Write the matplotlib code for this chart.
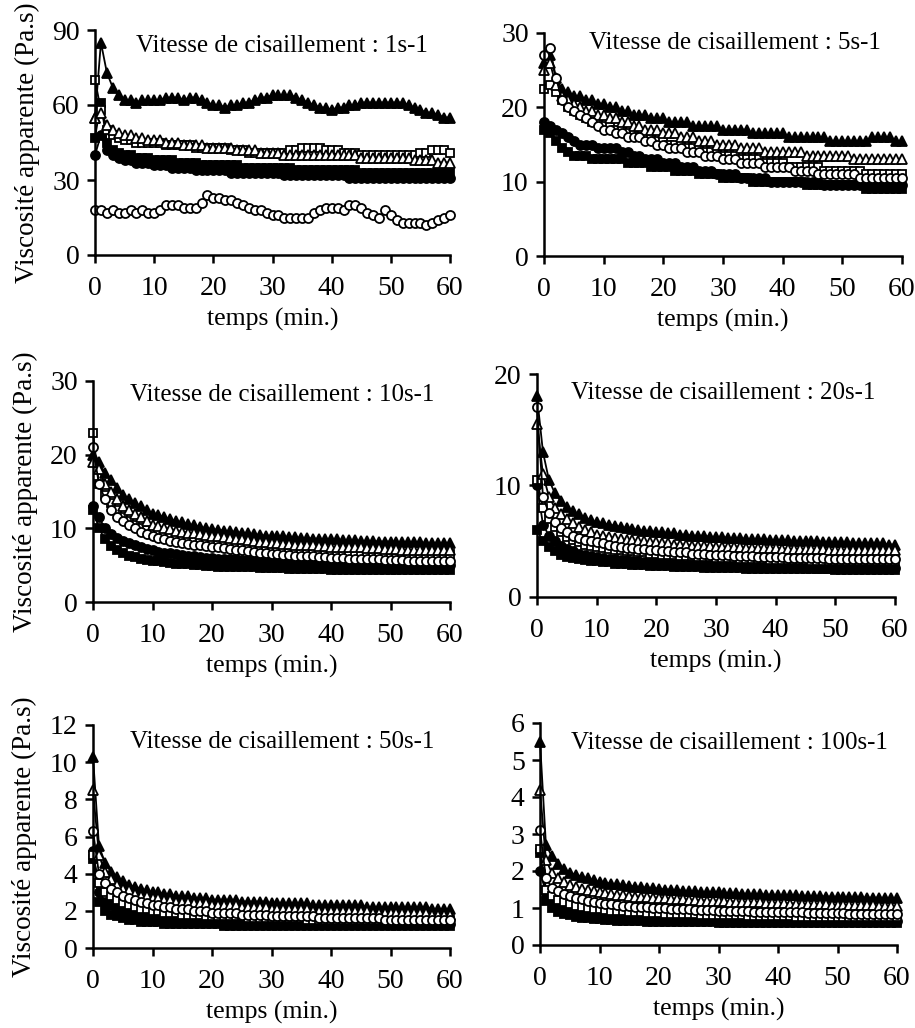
import matplotlib
matplotlib.use("Agg")
import matplotlib.pyplot as plt

plt.rcParams['font.family'] = ['Liberation Serif', 'DejaVu Serif']

# time (min.), one reading per minute
TIME = [0, 1, 2, 3, 4, 5, 6, 7, 8, 9, 10, 11, 12, 13, 14, 15, 16, 17, 18, 19,
        20, 21, 22, 23, 24, 25, 26, 27, 28, 29, 30, 31, 32, 33, 34, 35, 36, 37, 38, 39,
        40, 41, 42, 43, 44, 45, 46, 47, 48, 49, 50, 51, 52, 53, 54, 55, 56, 57, 58, 59, 60]

SHEAR_RATES = ["1s-1", "5s-1", "10s-1", "20s-1", "50s-1", "100s-1"]
Y_MAX = [90, 30, 30, 20, 12, 6]
Y_STEP = [30, 10, 10, 10, 2, 1]

# ---- 1 s-1
P1_TRI_F = [55, 85, 73, 67, 64, 62, 62, 61, 62, 62, 62, 62, 63, 63, 63, 62, 63, 63, 62, 61,
            60, 60, 59, 60, 60, 61, 61, 62, 63, 63, 64, 64, 64, 64, 63, 62, 61, 60, 59, 59,
            58, 59, 59, 60, 60, 61, 61, 61, 61, 61, 61, 61, 61, 60, 59, 58, 57, 57, 56, 55, 55]
P1_SQ_O = [70, 58, 50, 48, 47, 46, 46, 45, 45, 45, 45, 45, 44, 44, 44, 44, 44, 43, 43, 43,
           43, 43, 43, 42, 42, 42, 41, 41, 41, 41, 41, 41, 41, 42, 42, 43, 43, 43, 43, 42,
           42, 42, 41, 41, 41, 40, 40, 40, 40, 40, 40, 40, 40, 40, 40, 41, 41, 42, 42, 42, 41]
P1_TRI_O = [55, 57, 52, 50, 49, 48, 48, 47, 47, 46, 46, 46, 45, 45, 45, 44, 44, 44, 44, 43,
            43, 43, 43, 43, 42, 42, 42, 42, 41, 41, 41, 41, 40, 40, 40, 40, 40, 40, 40, 40,
            40, 40, 40, 40, 40, 39, 39, 39, 39, 39, 39, 39, 39, 39, 38, 38, 38, 38, 37, 37, 37]
P1_SQ_F = [47, 61, 45, 42, 41, 40, 40, 39, 39, 39, 38, 38, 38, 38, 37, 37, 37, 37, 36, 36,
           36, 36, 36, 36, 36, 35, 35, 35, 35, 35, 35, 35, 35, 35, 34, 34, 34, 34, 34, 34,
           34, 34, 34, 34, 34, 33, 33, 33, 33, 33, 33, 33, 33, 33, 33, 33, 33, 33, 33, 33, 33]
P1_CI_F = [40, 48, 42, 40, 39, 38, 38, 37, 37, 37, 36, 36, 36, 35, 35, 35, 35, 34, 34, 34,
           34, 34, 34, 33, 33, 33, 33, 33, 33, 33, 33, 33, 32, 32, 32, 32, 32, 32, 32, 32,
           32, 32, 32, 31, 31, 31, 31, 31, 31, 31, 31, 31, 31, 31, 31, 31, 31, 31, 31, 31, 31]
P1_CI_O = [18, 18, 17, 18, 17, 17, 18, 17, 18, 17, 17, 18, 20, 20, 20, 19, 19, 19, 21, 24,
           23, 23, 22, 22, 21, 20, 19, 18, 18, 17, 16, 16, 15, 15, 15, 15, 15, 17, 18, 19,
           19, 19, 18, 20, 20, 19, 17, 16, 15, 18, 16, 14, 13, 13, 13, 13, 12, 13, 14, 15, 16]

# ---- 5 s-1
P2_TRI_F = [26, 27, 24, 22.5, 22, 21.5, 21.5, 21, 21, 20.5, 20.5, 20, 20, 19.5, 19.5, 19, 19, 19, 18.5, 18.5,
            18.5, 18, 18, 18, 18, 17.5, 17.5, 17.5, 17.5, 17.5, 17, 17, 17, 17, 17, 16.5, 16.5, 16.5, 16.5, 16.5,
            16.5, 16, 16, 16, 16, 16, 16, 16, 15.5, 15.5, 15.5, 15.5, 15.5, 15.5, 15.5, 16, 16, 16, 16, 15.5, 15.5]
P2_TRI_O = [25, 26, 23, 21.5, 21, 20.5, 20, 19.5, 19.5, 19, 19, 18.5, 18.5, 18, 18, 17.5, 17.5, 17, 17, 17,
            16.5, 16.5, 16.5, 16, 16, 16, 15.5, 15.5, 15.5, 15, 15, 15, 15, 14.5, 14.5, 14.5, 14.5, 14, 14, 14,
            14, 14, 14, 14, 13.5, 13.5, 13.5, 13.5, 13.5, 13.5, 13.5, 13.5, 13, 13, 13, 13, 13, 13, 13, 13, 13]
P2_SQ_O = [22.5, 23, 22, 21, 20, 19.5, 19, 18.5, 18, 18, 17.5, 17.5, 17, 17, 16.5, 16.5, 16, 16, 16, 15.5,
           15.5, 15, 15, 15, 14.5, 14.5, 14.5, 14, 14, 14, 13.5, 13.5, 13.5, 13, 13, 13, 13, 12.5, 12.5, 12.5,
           12.5, 12, 12, 12, 12, 12, 12, 11.5, 11.5, 11.5, 11.5, 11.5, 11.5, 11.5, 11, 11, 11, 11, 11, 11, 11]
P2_CI_O = [27, 28, 24, 21, 20, 19.5, 19, 18.5, 18, 17.5, 17, 17, 16.5, 16.5, 16, 16, 16, 15.5, 15.5, 15,
           15, 14.5, 14.5, 14.5, 14, 14, 14, 13.5, 13.5, 13.5, 13, 13, 13, 12.5, 12.5, 12.5, 12.5, 12, 12, 12,
           12, 12, 11.5, 11.5, 11.5, 11.5, 11, 11, 11, 11, 11, 11, 11, 10.5, 10.5, 10.5, 10.5, 10.5, 10.5, 10.5, 10.5]
P2_CI_F = [18, 17.5, 17, 16.5, 16, 15.5, 15, 15, 15, 14.5, 14.5, 14.5, 14.5, 14, 14, 13.5, 13.5, 13, 13, 13,
           12.5, 12.5, 12.5, 12, 12, 12, 11.5, 11.5, 11.5, 11, 11, 11, 11, 10.5, 10.5, 10.5, 10.5, 10.5, 10, 10,
           10, 10, 10, 10, 10, 10, 10, 9.5, 9.5, 9.5, 9.5, 9.5, 9.5, 9.5, 9.5, 9.5, 9.5, 9.5, 9.5, 9.5, 9.5]
P2_SQ_F = [17, 16.5, 15.5, 14.5, 14, 13.5, 13.5, 13.5, 13, 13, 13, 13, 13, 13, 12.5, 12.5, 12.5, 12.5, 12, 12,
           12, 12, 11.5, 11.5, 11.5, 11.5, 11, 11, 11, 11, 10.5, 10.5, 10.5, 10.5, 10.5, 10, 10, 10, 10, 10,
           10, 10, 10, 10, 9.5, 9.5, 9.5, 9.5, 9.5, 9.5, 9.5, 9.5, 9.5, 9.5, 9, 9, 9, 9, 9, 9, 9]

# ---- 10 s-1
P3_TRI_F = [20, 19, 17.5, 16.5, 15.5, 14.5, 14, 13.5, 13, 12.5, 12, 11.8, 11.5, 11.2, 11, 10.8, 10.6, 10.4, 10.2, 10,
            9.9, 9.8, 9.7, 9.6, 9.5, 9.4, 9.3, 9.2, 9.1, 9, 9, 8.9, 8.9, 8.8, 8.8, 8.7, 8.7, 8.6, 8.6, 8.5,
            8.5, 8.5, 8.4, 8.4, 8.4, 8.3, 8.3, 8.3, 8.2, 8.2, 8.2, 8.2, 8.1, 8.1, 8.1, 8.1, 8, 8, 8, 8, 8]
P3_TRI_O = [19, 18, 16, 15, 14, 13, 12.5, 12, 11.5, 11, 10.5, 10.3, 10.1, 9.9, 9.7, 9.5, 9.4, 9.3, 9.2, 9.1,
            9, 8.9, 8.8, 8.7, 8.6, 8.5, 8.4, 8.3, 8.2, 8.1, 8, 8, 7.9, 7.9, 7.8, 7.8, 7.7, 7.7, 7.6, 7.6,
            7.5, 7.5, 7.5, 7.4, 7.4, 7.4, 7.3, 7.3, 7.3, 7.2, 7.2, 7.2, 7.1, 7.1, 7.1, 7, 7, 7, 7, 7, 7]
P3_SQ_O = [23, 16, 14.5, 13.5, 12.5, 11.5, 11, 10.5, 10, 9.8, 9.5, 9.3, 9.1, 8.9, 8.7, 8.5, 8.4, 8.3, 8.2, 8.1,
           8, 7.9, 7.8, 7.7, 7.6, 7.5, 7.4, 7.3, 7.2, 7.1, 7, 7, 6.9, 6.9, 6.8, 6.8, 6.8, 6.7, 6.7, 6.7,
           6.6, 6.6, 6.6, 6.6, 6.5, 6.5, 6.5, 6.5, 6.5, 6.5, 6.5, 6.5, 6.5, 6.5, 6.5, 6.5, 6.5, 6.5, 6.5, 6.5, 6.5]
P3_CI_O = [21, 16, 14, 12.5, 11.5, 11, 10.5, 10, 9.5, 9.2, 9, 8.7, 8.5, 8.3, 8.1, 8, 7.9, 7.8, 7.7, 7.6,
           7.5, 7.4, 7.3, 7.2, 7.1, 7, 6.9, 6.8, 6.7, 6.6, 6.5, 6.5, 6.4, 6.4, 6.3, 6.3, 6.2, 6.2, 6.1, 6.1,
           6, 6, 6, 5.9, 5.9, 5.9, 5.8, 5.8, 5.8, 5.7, 5.7, 5.7, 5.7, 5.6, 5.6, 5.6, 5.6, 5.5, 5.5, 5.5, 5.5]
P3_CI_F = [13, 11.5, 10, 9.2, 8.7, 8.3, 8, 7.7, 7.4, 7.2, 7, 6.8, 6.7, 6.6, 6.5, 6.4, 6.3, 6.2, 6.1, 6,
           6, 5.9, 5.9, 5.8, 5.8, 5.7, 5.7, 5.6, 5.6, 5.5, 5.5, 5.5, 5.4, 5.4, 5.4, 5.3, 5.3, 5.3, 5.2, 5.2,
           5.2, 5.2, 5.1, 5.1, 5.1, 5.1, 5, 5, 5, 5, 5, 5, 5, 5, 5, 5, 5, 5, 5, 5, 5]
P3_SQ_F = [12.5, 10, 8.5, 7.6, 7, 6.6, 6.3, 6.1, 5.9, 5.7, 5.6, 5.5, 5.4, 5.3, 5.2, 5.1, 5.1, 5, 5, 4.9,
           4.9, 4.8, 4.8, 4.8, 4.7, 4.7, 4.7, 4.7, 4.6, 4.6, 4.6, 4.6, 4.6, 4.5, 4.5, 4.5, 4.5, 4.5, 4.5, 4.5,
           4.4, 4.4, 4.4, 4.4, 4.4, 4.4, 4.4, 4.4, 4.4, 4.4, 4.3, 4.3, 4.3, 4.3, 4.3, 4.3, 4.3, 4.3, 4.3, 4.3, 4.3]

# ---- 20 s-1
P4_TRI_F = [18, 13, 10.5, 9.3, 8.6, 8.1, 7.7, 7.4, 7.1, 6.9, 6.7, 6.6, 6.5, 6.4, 6.3, 6.2, 6.1, 6, 5.9, 5.9,
            5.8, 5.8, 5.7, 5.7, 5.6, 5.6, 5.5, 5.5, 5.5, 5.4, 5.4, 5.4, 5.3, 5.3, 5.3, 5.2, 5.2, 5.2, 5.2, 5.1,
            5.1, 5.1, 5.1, 5, 5, 5, 5, 5, 4.9, 4.9, 4.9, 4.9, 4.9, 4.8, 4.8, 4.8, 4.8, 4.8, 4.8, 4.7, 4.7]
P4_TRI_O = [15.5, 11, 9, 8, 7.4, 7, 6.6, 6.3, 6, 5.8, 5.6, 5.5, 5.4, 5.3, 5.2, 5.1, 5.1, 5, 5, 4.9,
            4.9, 4.8, 4.8, 4.7, 4.7, 4.7, 4.6, 4.6, 4.6, 4.6, 4.5, 4.5, 4.5, 4.5, 4.5, 4.4, 4.4, 4.4, 4.4, 4.4,
            4.4, 4.3, 4.3, 4.3, 4.3, 4.3, 4.3, 4.3, 4.3, 4.2, 4.2, 4.2, 4.2, 4.2, 4.2, 4.2, 4.2, 4.2, 4.2, 4.2, 4.2]
P4_CI_O = [17, 9, 7.5, 6.7, 6.2, 5.8, 5.5, 5.3, 5.1, 5, 4.9, 4.8, 4.7, 4.6, 4.5, 4.4, 4.4, 4.3, 4.3, 4.2,
           4.2, 4.1, 4.1, 4, 4, 4, 3.9, 3.9, 3.9, 3.8, 3.8, 3.8, 3.8, 3.7, 3.7, 3.7, 3.7, 3.6, 3.6, 3.6,
           3.6, 3.6, 3.5, 3.5, 3.5, 3.5, 3.5, 3.5, 3.5, 3.4, 3.4, 3.4, 3.4, 3.4, 3.4, 3.4, 3.4, 3.4, 3.4, 3.4, 3.4]
P4_SQ_O = [10.5, 8, 7, 6.3, 5.8, 5.4, 5.1, 4.9, 4.7, 4.6, 4.5, 4.4, 4.3, 4.2, 4.2, 4.1, 4.1, 4, 4, 3.9,
           3.9, 3.8, 3.8, 3.8, 3.7, 3.7, 3.7, 3.6, 3.6, 3.6, 3.5, 3.5, 3.5, 3.5, 3.4, 3.4, 3.4, 3.4, 3.4, 3.3,
           3.3, 3.3, 3.3, 3.3, 3.3, 3.3, 3.2, 3.2, 3.2, 3.2, 3.2, 3.2, 3.2, 3.2, 3.2, 3.2, 3.2, 3.2, 3.2, 3.2, 3.2]
P4_CI_F = [10, 6.5, 5.5, 5, 4.6, 4.3, 4.1, 3.9, 3.8, 3.7, 3.6, 3.5, 3.4, 3.4, 3.3, 3.3, 3.2, 3.2, 3.1, 3.1,
           3.1, 3, 3, 3, 3, 2.9, 2.9, 2.9, 2.9, 2.9, 2.8, 2.8, 2.8, 2.8, 2.8, 2.8, 2.8, 2.7, 2.7, 2.7,
           2.7, 2.7, 2.7, 2.7, 2.7, 2.7, 2.7, 2.6, 2.6, 2.6, 2.6, 2.6, 2.6, 2.6, 2.6, 2.6, 2.6, 2.6, 2.6, 2.6, 2.6]
P4_SQ_F = [6, 5, 4.5, 4.1, 3.8, 3.6, 3.5, 3.4, 3.3, 3.2, 3.2, 3.1, 3.1, 3, 3, 3, 2.9, 2.9, 2.9, 2.8,
           2.8, 2.8, 2.8, 2.7, 2.7, 2.7, 2.7, 2.7, 2.6, 2.6, 2.6, 2.6, 2.6, 2.6, 2.6, 2.5, 2.5, 2.5, 2.5, 2.5,
           2.5, 2.5, 2.5, 2.5, 2.5, 2.5, 2.5, 2.5, 2.5, 2.5, 2.4, 2.4, 2.4, 2.4, 2.4, 2.4, 2.4, 2.4, 2.4, 2.4, 2.4]

# ---- 50 s-1
P5_TRI_F = [10.3, 5.5, 4.6, 4.1, 3.8, 3.6, 3.4, 3.3, 3.2, 3.1, 3, 3, 2.9, 2.9, 2.8, 2.8, 2.8, 2.7, 2.7, 2.7,
            2.6, 2.6, 2.6, 2.6, 2.6, 2.5, 2.5, 2.5, 2.5, 2.5, 2.4, 2.4, 2.4, 2.4, 2.4, 2.4, 2.4, 2.3, 2.3, 2.3,
            2.3, 2.3, 2.3, 2.3, 2.3, 2.3, 2.2, 2.2, 2.2, 2.2, 2.2, 2.2, 2.2, 2.2, 2.2, 2.2, 2.2, 2.1, 2.1, 2.1, 2.1]
P5_TRI_O = [8.5, 5, 4.1, 3.7, 3.4, 3.2, 3.1, 2.9, 2.8, 2.8, 2.7, 2.7, 2.6, 2.6, 2.5, 2.5, 2.5, 2.4, 2.4, 2.4,
            2.3, 2.3, 2.3, 2.3, 2.3, 2.2, 2.2, 2.2, 2.2, 2.2, 2.1, 2.1, 2.1, 2.1, 2.1, 2.1, 2.1, 2, 2, 2,
            2, 2, 2, 2, 2, 2, 2, 1.9, 1.9, 1.9, 1.9, 1.9, 1.9, 1.9, 1.9, 1.9, 1.9, 1.8, 1.8, 1.8, 1.8]
P5_CI_O = [6.3, 4, 3.5, 3.2, 3, 2.8, 2.7, 2.6, 2.5, 2.4, 2.3, 2.3, 2.2, 2.2, 2.1, 2.1, 2.1, 2, 2, 2,
           1.9, 1.9, 1.9, 1.9, 1.9, 1.8, 1.8, 1.8, 1.8, 1.8, 1.7, 1.7, 1.7, 1.7, 1.7, 1.7, 1.7, 1.7, 1.6, 1.6,
           1.6, 1.6, 1.6, 1.6, 1.6, 1.6, 1.6, 1.6, 1.6, 1.5, 1.5, 1.5, 1.5, 1.5, 1.5, 1.5, 1.5, 1.5, 1.5, 1.5, 1.5]
P5_SQ_O = [5, 3.5, 3, 2.8, 2.6, 2.4, 2.3, 2.2, 2.1, 2.1, 2, 2, 1.9, 1.9, 1.9, 1.8, 1.8, 1.8, 1.8, 1.7,
           1.7, 1.7, 1.7, 1.7, 1.7, 1.7, 1.6, 1.6, 1.6, 1.6, 1.6, 1.6, 1.6, 1.6, 1.6, 1.6, 1.5, 1.5, 1.5, 1.5,
           1.5, 1.5, 1.5, 1.5, 1.5, 1.5, 1.5, 1.5, 1.5, 1.5, 1.5, 1.5, 1.5, 1.5, 1.5, 1.5, 1.5, 1.5, 1.5, 1.5, 1.5]
P5_CI_F = [5.2, 3, 2.5, 2.3, 2.1, 2, 1.9, 1.8, 1.7, 1.7, 1.6, 1.6, 1.6, 1.5, 1.5, 1.5, 1.5, 1.5, 1.4, 1.4,
           1.4, 1.4, 1.4, 1.4, 1.4, 1.4, 1.3, 1.3, 1.3, 1.3, 1.3, 1.3, 1.3, 1.3, 1.3, 1.3, 1.3, 1.3, 1.3, 1.3,
           1.3, 1.3, 1.3, 1.3, 1.3, 1.3, 1.3, 1.3, 1.3, 1.3, 1.3, 1.3, 1.3, 1.3, 1.3, 1.3, 1.3, 1.3, 1.3, 1.3, 1.3]
P5_SQ_F = [4.8, 2.5, 2, 1.8, 1.7, 1.6, 1.5, 1.5, 1.4, 1.4, 1.4, 1.4, 1.3, 1.3, 1.3, 1.3, 1.3, 1.3, 1.3, 1.3,
           1.3, 1.3, 1.2, 1.2, 1.2, 1.2, 1.2, 1.2, 1.2, 1.2, 1.2, 1.2, 1.2, 1.2, 1.2, 1.2, 1.2, 1.2, 1.2, 1.2,
           1.2, 1.2, 1.2, 1.2, 1.2, 1.2, 1.2, 1.2, 1.2, 1.2, 1.2, 1.2, 1.2, 1.2, 1.2, 1.2, 1.2, 1.2, 1.2, 1.2, 1.2]

# ---- 100 s-1
P6_TRI_F = [5.5, 2.7, 2.4, 2.2, 2.05, 1.95, 1.9, 1.85, 1.8, 1.75, 1.7, 1.68, 1.66, 1.64, 1.62, 1.6, 1.58, 1.56, 1.55, 1.54,
            1.52, 1.5, 1.5, 1.48, 1.47, 1.46, 1.45, 1.44, 1.43, 1.42, 1.42, 1.41, 1.4, 1.4, 1.39, 1.38, 1.38, 1.37, 1.36, 1.36,
            1.35, 1.35, 1.34, 1.34, 1.33, 1.33, 1.32, 1.32, 1.31, 1.31, 1.3, 1.3, 1.3, 1.29, 1.29, 1.28, 1.28, 1.28, 1.27, 1.27, 1.27]
P6_TRI_O = [4.2, 2.3, 1.95, 1.8, 1.7, 1.62, 1.56, 1.52, 1.48, 1.45, 1.42, 1.4, 1.38, 1.36, 1.34, 1.32, 1.31, 1.3, 1.29, 1.28,
            1.27, 1.26, 1.25, 1.24, 1.23, 1.22, 1.21, 1.2, 1.2, 1.19, 1.18, 1.18, 1.17, 1.17, 1.16, 1.16, 1.15, 1.15, 1.14, 1.14,
            1.13, 1.13, 1.12, 1.12, 1.11, 1.11, 1.1, 1.1, 1.1, 1.09, 1.09, 1.08, 1.08, 1.08, 1.07, 1.07, 1.07, 1.06, 1.06, 1.06, 1.05]
P6_CI_O = [3.1, 1.8, 1.55, 1.45, 1.38, 1.32, 1.27, 1.23, 1.2, 1.17, 1.14, 1.12, 1.1, 1.08, 1.06, 1.05, 1.04, 1.03, 1.02, 1.01,
           1, 0.99, 0.98, 0.97, 0.96, 0.96, 0.95, 0.95, 0.94, 0.94, 0.93, 0.93, 0.92, 0.92, 0.91, 0.91, 0.9, 0.9, 0.9, 0.89,
           0.89, 0.89, 0.88, 0.88, 0.88, 0.87, 0.87, 0.87, 0.86, 0.86, 0.86, 0.86, 0.85, 0.85, 0.85, 0.85, 0.84, 0.84, 0.84, 0.84, 0.84]
P6_SQ_O = [2.6, 1.5, 1.32, 1.22, 1.15, 1.1, 1.06, 1.03, 1, 0.98, 0.96, 0.94, 0.93, 0.92, 0.91, 0.9, 0.89, 0.88, 0.87, 0.86,
           0.86, 0.85, 0.85, 0.84, 0.84, 0.83, 0.83, 0.82, 0.82, 0.81, 0.81, 0.81, 0.8, 0.8, 0.8, 0.79, 0.79, 0.79, 0.79, 0.78,
           0.78, 0.78, 0.78, 0.77, 0.77, 0.77, 0.77, 0.77, 0.76, 0.76, 0.76, 0.76, 0.76, 0.76, 0.76, 0.76, 0.76, 0.76, 0.76, 0.76, 0.76]
P6_CI_F = [2, 1.4, 1.2, 1.1, 1.03, 0.98, 0.94, 0.9, 0.87, 0.85, 0.83, 0.81, 0.8, 0.78, 0.77, 0.76, 0.75, 0.74, 0.73, 0.72,
           0.72, 0.71, 0.71, 0.7, 0.7, 0.69, 0.69, 0.68, 0.68, 0.68, 0.67, 0.67, 0.67, 0.67, 0.67, 0.66, 0.66, 0.66, 0.66, 0.66,
           0.66, 0.66, 0.66, 0.66, 0.66, 0.65, 0.65, 0.65, 0.65, 0.65, 0.65, 0.65, 0.65, 0.65, 0.65, 0.65, 0.65, 0.65, 0.65, 0.65, 0.65]
P6_SQ_F = [2.5, 1.2, 1, 0.9, 0.84, 0.8, 0.77, 0.74, 0.72, 0.7, 0.69, 0.68, 0.67, 0.66, 0.65, 0.65, 0.64, 0.64, 0.63, 0.63,
           0.63, 0.62, 0.62, 0.62, 0.62, 0.61, 0.61, 0.61, 0.61, 0.61, 0.6, 0.6, 0.6, 0.6, 0.6, 0.6, 0.6, 0.6, 0.6, 0.6,
           0.6, 0.6, 0.6, 0.6, 0.6, 0.6, 0.6, 0.6, 0.6, 0.6, 0.6, 0.6, 0.6, 0.6, 0.6, 0.6, 0.6, 0.6, 0.6, 0.6, 0.6]

# drawing order: filled first, open on top
PANELS = [
    [P1_SQ_F, P1_CI_F, P1_TRI_F, P1_SQ_O, P1_TRI_O, P1_CI_O],
    [P2_SQ_F, P2_CI_F, P2_TRI_F, P2_SQ_O, P2_TRI_O, P2_CI_O],
    [P3_SQ_F, P3_CI_F, P3_TRI_F, P3_SQ_O, P3_TRI_O, P3_CI_O],
    [P4_SQ_F, P4_CI_F, P4_TRI_F, P4_SQ_O, P4_TRI_O, P4_CI_O],
    [P5_SQ_F, P5_CI_F, P5_TRI_F, P5_SQ_O, P5_TRI_O, P5_CI_O],
    [P6_SQ_F, P6_CI_F, P6_TRI_F, P6_SQ_O, P6_TRI_O, P6_CI_O],
]
STYLES = [("s", "black", 6), ("o", "black", 6.5), ("^", "black", 7.5),
          ("s", "white", 6), ("^", "white", 7.5), ("o", "white", 6.5)]

# axes boxes in pixels: left, right, top, bottom
W, H = 915, 1028
BOXES = [(95, 450, 30, 255), (544, 902, 33, 256),
         (93, 450, 381, 602), (537, 895, 374, 597),
         (93, 450, 725, 948), (540, 897, 723, 945)]
TITLE_POS = [(0.527, 0.93), (0.534, 0.955), (0.53, 0.937),
             (0.52, 0.915), (0.53, 0.924), (0.532, 0.91)]

fig = plt.figure(figsize=(W / 100, H / 100), dpi=100)

for i in range(6):
    l, r, t, b = BOXES[i]
    ax = fig.add_axes([l / W, 1 - b / H, (r - l) / W, (b - t) / H])
    for series, (m, fc, ms) in zip(PANELS[i], STYLES):
        ax.plot(TIME, series, color="black", lw=1.3, marker=m, ms=ms,
                mfc=fc, mec="black", mew=1.3, clip_on=False)
    ax.set_xlim(0, 60)
    ax.set_ylim(0, Y_MAX[i])
    ax.set_xticks(range(0, 61, 10))
    ax.set_yticks([v * Y_STEP[i] for v in range(Y_MAX[i] // Y_STEP[i] + 1)])
    ax.spines["top"].set_visible(False)
    ax.spines["right"].set_visible(False)
    for s in ("left", "bottom"):
        ax.spines[s].set_linewidth(1.8)
    ax.tick_params(direction="out", length=6, width=1.8, labelsize=20)
    ax.tick_params(axis="x", pad=9)
    ax.tick_params(axis="y", pad=5)
    ax.set_xlabel("temps (min.)", fontsize=18.5, labelpad=5)
    if i % 2 == 0:
        ax.set_ylabel("Viscosité apparente (Pa.s)", fontsize=19.5, labelpad=9)
    tx, ty = TITLE_POS[i]
    ax.text(tx, ty, "Vitesse de cisaillement : " + SHEAR_RATES[i],
            transform=ax.transAxes, ha="center", va="center", fontsize=18)

fig.savefig("out.png", dpi=100)
